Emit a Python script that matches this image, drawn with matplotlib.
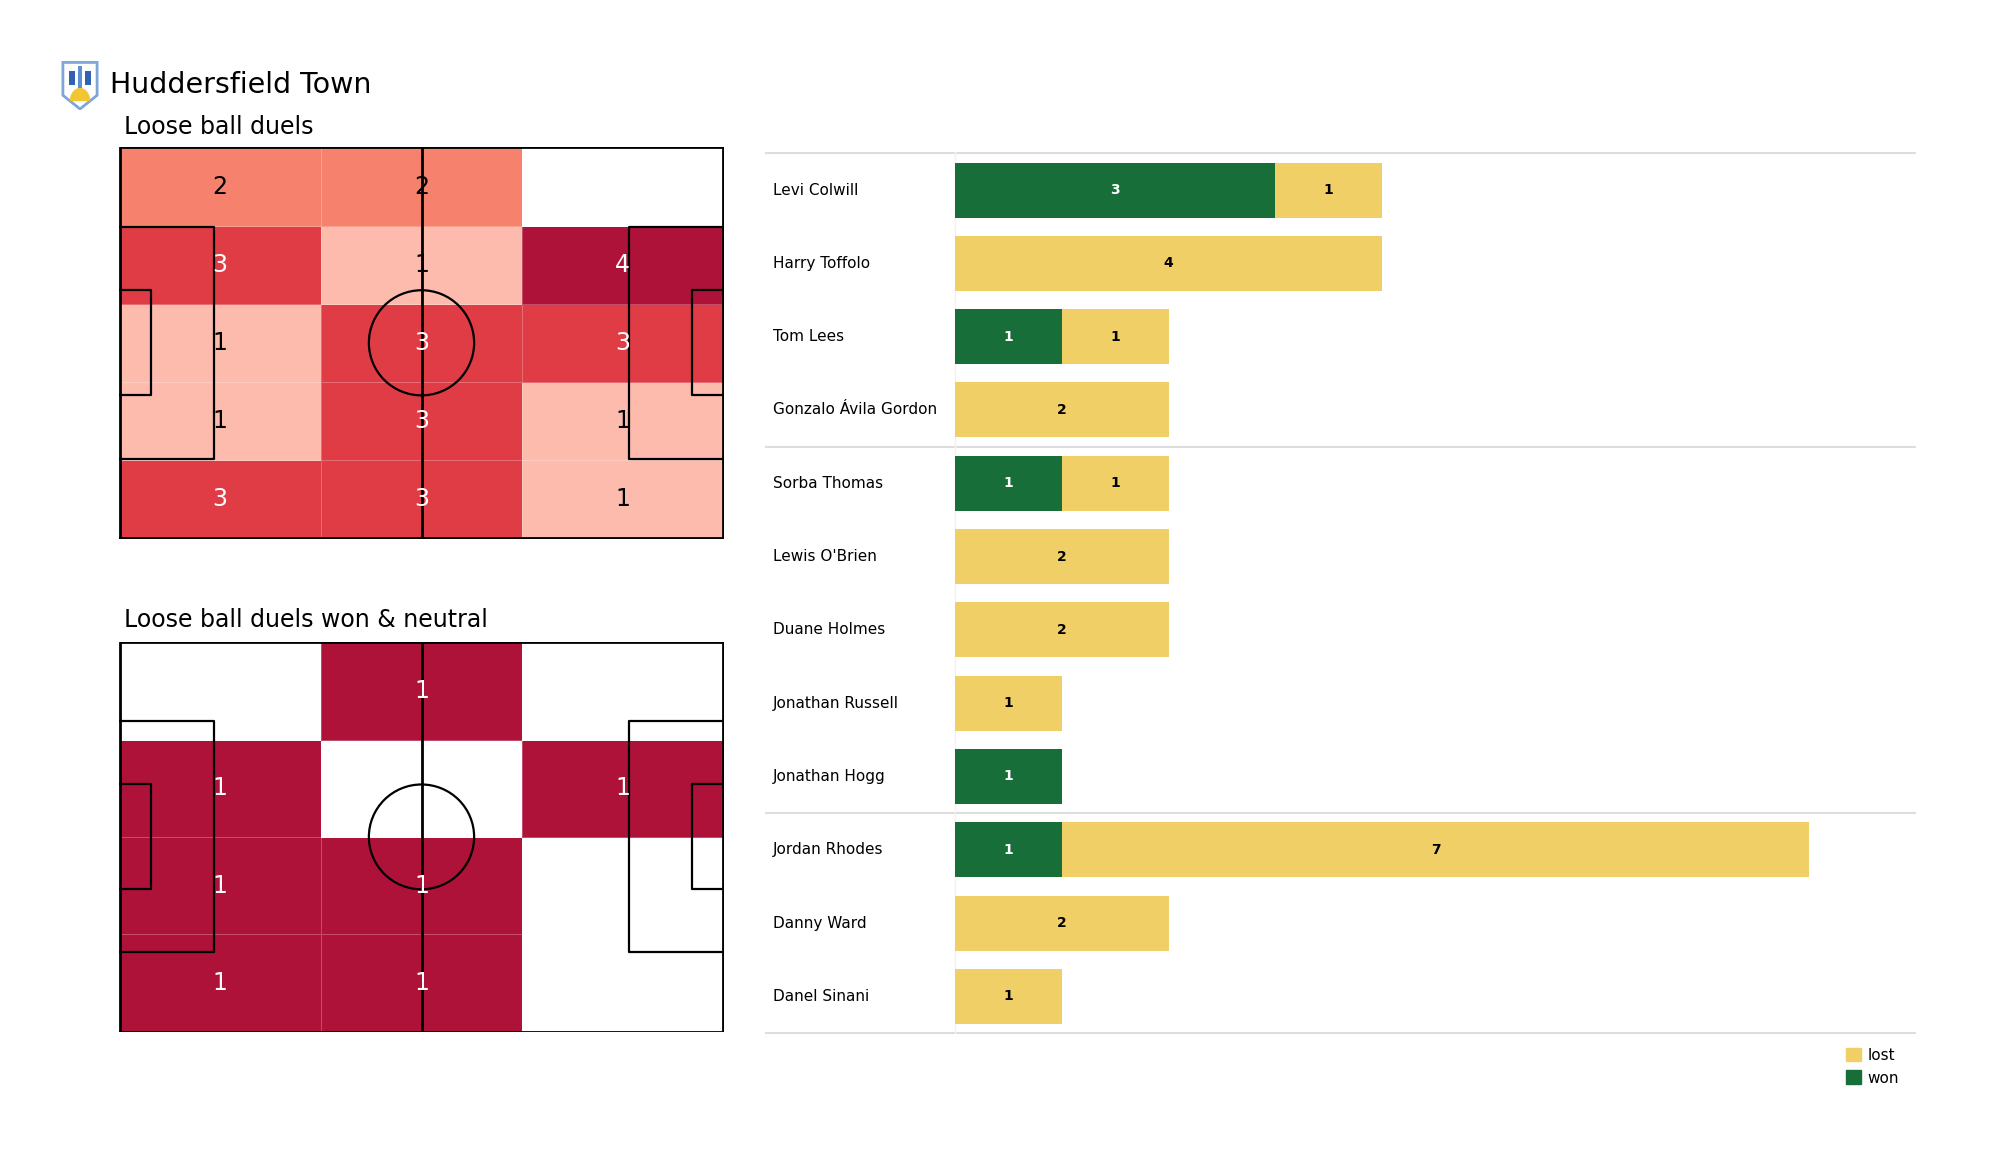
import matplotlib
matplotlib.use('Agg')
import matplotlib.pyplot as plt
import numpy as np
from matplotlib.colors import LinearSegmentedColormap
from matplotlib.patches import Patch, Circle, Polygon, Rectangle, Wedge

# heatmap counts, first row = top of the pitch picture
duels_all = [[2, 2, 0],
             [3, 1, 4],
             [1, 3, 3],
             [1, 3, 1],
             [3, 3, 1]]
duels_won = [[0, 1, 0],
             [1, 0, 1],
             [1, 1, 0],
             [1, 1, 0]]

players = ['Levi Colwill', 'Harry Toffolo', 'Tom Lees', 'Gonzalo Ávila Gordon',
           'Sorba Thomas', "Lewis O'Brien", 'Duane Holmes', 'Jonathan Russell',
           'Jonathan Hogg', 'Jordan Rhodes', 'Danny Ward', 'Danel Sinani']
won = [3, 0, 1, 0, 1, 0, 0, 0, 1, 1, 0, 0]
lost = [1, 4, 1, 2, 1, 2, 2, 1, 0, 7, 2, 1]
group_breaks = [3.5, 8.5]

GREEN = '#176e38'
YELLOW = '#f0d066'
cmap = LinearSegmentedColormap.from_list(
    'duels', ['#ffffff', '#fcbbad', '#f6826c', '#e13d45', '#ae1239'])

fig = plt.figure(figsize=(20, 11.75), dpi=100)
fig.patch.set_facecolor('white')


def draw_pitch(ax):
    lc = 'black'
    lw = 1.6
    ax.plot([0, 105, 105, 0, 0], [0, 0, 68, 68, 0], color=lc, lw=2, zorder=3)
    ax.plot([52.5, 52.5], [0, 68], color=lc, lw=2, zorder=3)
    ax.add_patch(Circle((52.5, 34), 9.15, fill=False, ec=lc, lw=lw, zorder=3))
    for x0, d in [(0, 1), (105, -1)]:
        ax.plot([x0, x0 + d * 16.5, x0 + d * 16.5, x0],
                [34 - 20.16, 34 - 20.16, 34 + 20.16, 34 + 20.16], color=lc, lw=lw, zorder=3)
        ax.plot([x0, x0 + d * 5.5, x0 + d * 5.5, x0],
                [34 - 9.16, 34 - 9.16, 34 + 9.16, 34 + 9.16], color=lc, lw=lw, zorder=3)
    ax.set_xlim(-0.1, 105.1)
    ax.set_ylim(-0.1, 68.1)
    ax.axis('off')


def heat(ax, grid):
    arr = np.array(grid, dtype=float)[::-1]
    ny, nx = arr.shape
    xe = np.linspace(0, 105, nx + 1)
    ye = np.linspace(0, 68, ny + 1)
    vmax = arr.max()
    ax.pcolormesh(xe, ye, arr, cmap=cmap, vmin=0, vmax=vmax,
                  edgecolors=(1, 1, 1, 0.25), linewidth=0.6, zorder=1)
    for i in range(ny):
        for j in range(nx):
            v = arr[i, j]
            if v == 0:
                continue
            col = 'white' if v / vmax >= 0.7 else 'black'
            ax.text((xe[j] + xe[j + 1]) / 2, (ye[i] + ye[i + 1]) / 2, '%d' % v,
                    ha='center', va='center', fontsize=17, color=col, zorder=4)
    draw_pitch(ax)


ax1 = fig.add_axes([0.0595, 0.5415, 0.3025, 0.3335])
heat(ax1, duels_all)
ax2 = fig.add_axes([0.0595, 0.1215, 0.3025, 0.3325])
heat(ax2, duels_won)

fig.text(0.055, 0.9275, 'Huddersfield Town', fontsize=20.5, va='center', ha='left')
fig.text(0.062, 0.892, 'Loose ball duels', fontsize=17, va='center', ha='left')
fig.text(0.062, 0.472, 'Loose ball duels won & neutral', fontsize=17, va='center', ha='left')

# crest (simplified)
axl = fig.add_axes([0.0305, 0.9064, 0.019, 0.0417])
shield = [(0.05, 0.97), (0.95, 0.97), (0.95, 0.3), (0.5, 0.02), (0.05, 0.3)]
axl.add_patch(Polygon(shield, closed=True, fc='white', ec='#7ea6d8', lw=2))
axl.add_patch(Rectangle((0.2, 0.5), 0.18, 0.3, fc='#2f63b0', ec='none'))
axl.add_patch(Rectangle((0.62, 0.5), 0.18, 0.3, fc='#2f63b0', ec='none'))
axl.add_patch(Rectangle((0.44, 0.35), 0.12, 0.55, fc='#5b8fd6', ec='none'))
axl.add_patch(Wedge((0.5, 0.18), 0.27, 0, 180, fc='#f2c531', ec='none'))
axl.set_xlim(0, 1)
axl.set_ylim(0, 1)
axl.axis('off')

# stacked bars
axb = fig.add_axes([0.3825, 0.1196, 0.5755, 0.7511])
y = np.arange(len(players))
axb.barh(y, won, height=0.75, color=GREEN, zorder=2)
axb.barh(y, lost, left=won, height=0.75, color=YELLOW, zorder=2)
for i in range(len(players)):
    if won[i] > 0:
        axb.text(won[i] / 2, i, str(won[i]), ha='center', va='center',
                 fontsize=10, fontweight='bold', color='white', zorder=3)
    if lost[i] > 0:
        axb.text(won[i] + lost[i] / 2, i, str(lost[i]), ha='center', va='center',
                 fontsize=10, fontweight='bold', color='black', zorder=3)
    axb.text(-1.704, i, players[i], ha='left', va='center', fontsize=11)

for yl in [-0.5] + group_breaks + [len(players) - 0.5]:
    axb.axhline(yl, color='#dddddd', lw=1.5, zorder=1)
axb.axvline(0, color='#f2f2f2', lw=1, zorder=1)
axb.set_xlim(-1.779, 9)
axb.set_ylim(len(players) - 0.5 + 0.02, -0.5 - 0.02)
axb.axis('off')

handles = [Patch(color=YELLOW, label='lost'), Patch(color=GREEN, label='won')]
fig.legend(handles=handles, loc='upper left', bbox_to_anchor=(0.916, 0.12),
           frameon=False, fontsize=11, handlelength=1.0, handleheight=1.0,
           handletextpad=0.4, labelspacing=0.5)

fig.savefig('out.png', dpi=100, facecolor='white')
